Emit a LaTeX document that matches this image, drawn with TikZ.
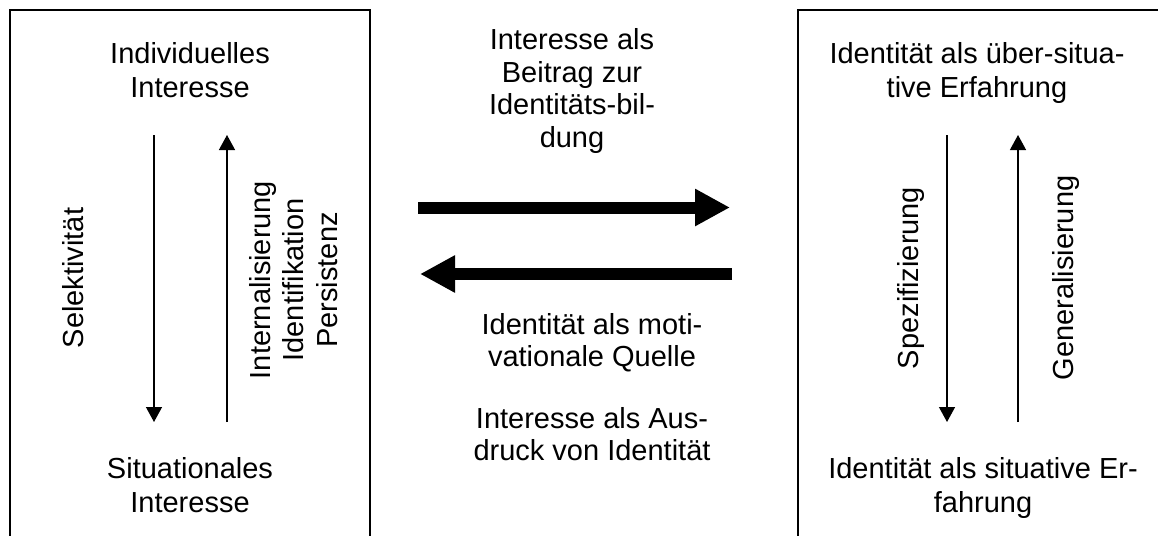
\documentclass[tikz,border=0pt]{standalone}
\usepackage{fontspec}
\setmainfont{Liberation Sans}
\usetikzlibrary{arrows.meta}
\tikzset{
  lbl/.style={font=\fontsize{29}{33.5}\selectfont, align=center, inner sep=0pt, anchor=base},
  vlbl/.style={lbl, rotate=90},
  frame/.style={line width=1.3pt},
  thin arrow/.style={line width=1.3pt, -{Triangle[width=16pt,length=15pt]}},
  big arrow/.style={line width=12pt, -{Triangle[width=35pt,length=35pt]}},
}
\begin{document}
\begin{tikzpicture}[x=1pt,y=-1pt]
\useasboundingbox (0,0) rectangle (1158,535);
\clip (0,0) rectangle (1158,535);
% boxes (open at bottom / right)
\draw[frame] (10,560) -- (10,10) -- (370,10) -- (370,560);
\draw[frame] (798,560) -- (798,10) -- (1180,10);
% left box texts (anchor = baseline of last line)
\node[lbl] (indiv) at (190,97) {Individuelles\\Interesse};
\node[lbl] (situ) at (190,512) {Situationales\\Interesse};
\node[vlbl] (sel) at (83,278) {Selektivität};
\node[vlbl] (intern) at (337,280) {Internalisierung\\Identifikation\\Persistenz};
% left box arrows
\coordinate (ldt) at (154,135);
\coordinate (ldb) at (154,422);
\coordinate (lut) at (227,135);
\coordinate (lub) at (227,422);
\draw[thin arrow] (ldt) -- (ldb);
\draw[thin arrow] (lub) -- (lut);
% right box texts
\node[lbl] (ueber) at (977,97) {Identität als über-situa-\\tive Erfahrung};
\node[lbl] (sitexp) at (983,512) {Identität als situative Er-\\fahrung};
\node[vlbl] (spez) at (918,278) {Spezifizierung};
\node[vlbl] (gen) at (1073,278) {Generalisierung};
% right box arrows
\coordinate (rdt) at (947,135);
\coordinate (rdb) at (947,422);
\coordinate (rut) at (1018,135);
\coordinate (rub) at (1018,422);
\draw[thin arrow] (rdt) -- (rdb);
\draw[thin arrow] (rub) -- (rut);
% middle texts
\node[lbl, font=\fontsize{29}{32.5}\selectfont] (beitrag) at (572,147) {Interesse als\\Beitrag zur\\Identitäts-bil-\\dung};
\node[lbl, font=\fontsize{29}{32}\selectfont] (quelle) at (592,366) {Identität als moti-\\vationale Quelle};
\node[lbl, font=\fontsize{29}{32}\selectfont] (ausdruck) at (592,460) {Interesse als Aus-\\druck von Identität};
% big arrows
\coordinate (a1s) at (418,207.5);
\coordinate (a1e) at (730,207.5);
\coordinate (a2s) at (732,274);
\coordinate (a2e) at (420,274);
\draw[big arrow] (a1s) -- (a1e);
\draw[big arrow] (a2s) -- (a2e);
\end{tikzpicture}
\end{document}
